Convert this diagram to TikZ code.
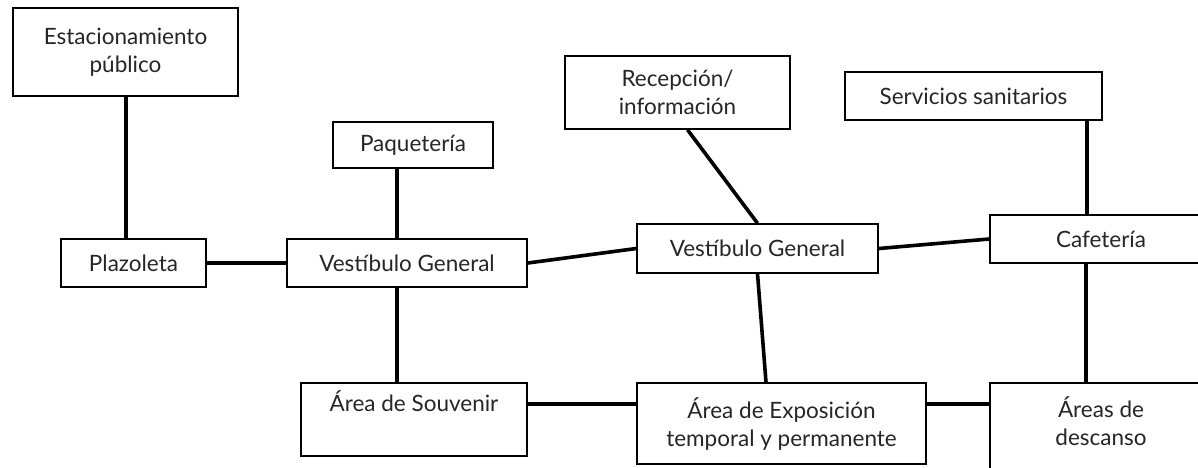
\documentclass[tikz,border=0pt]{standalone}
\usepackage{fontspec}
\setmainfont{Lato}
\usetikzlibrary{calc}
\tikzset{
  box/.style={draw=black, line width=1.6pt, fill=white, rectangle, inner sep=0pt,
    align=center, text=black!85, font=\fontsize{22.5}{28}\selectfont},
  link/.style={line width=3.6pt, line cap=butt}
}
\begin{document}
\begin{tikzpicture}[x=1pt,y=-1pt]
\useasboundingbox (0,0) rectangle (1198,467);
\clip (0,0) rectangle (1198,467);
% nodes
\node[box, minimum width=225pt, minimum height=88pt] (est) at (125.5,52) {Estacionamiento\\público};
\node[box, minimum width=145pt, minimum height=48pt] (plaz) at (133.5,263) {Plazoleta};
\node[box, minimum width=240pt, minimum height=48pt] (vl) at (407,263) {Vestíbulo General};
\node[box, minimum width=160pt, minimum height=46pt] (paq) at (413,145) {Paquetería};
\node[box, minimum width=225pt, minimum height=73pt] (rec) at (677.5,92.5) {Recepción/\\información};
\node[box, minimum width=241pt, minimum height=49pt] (vm) at (757.5,248.5) {Vestíbulo General};
\node[box, minimum width=257pt, minimum height=48pt] (serv) at (973.5,96) {Servicios sanitarios};
\node[box, minimum width=222pt, minimum height=48pt] (caf) at (1101,239) {Cafetería};
\node[box, minimum width=226pt, minimum height=73pt] (souv) at (414,419.5) {Área de Souvenir\\\strut};
\node[box, minimum width=289pt, minimum height=81pt] (expo) at (781.5,423.5) {Área de Exposición\\temporal y permanente};
\node[box, minimum width=222pt, minimum height=92pt] (desc) at (1101,429) {Áreas de\\descanso\\[-12pt]\mbox{}};
% connectors
\draw[link] ([xshift=0.5pt]est.south) -- ([xshift=0.5pt]est.south |- plaz.north);
\draw[link] (plaz.east) -- (vl.west);
\draw[link] ([xshift=-16pt]paq.south) -- ([xshift=-16pt]paq.south |- vl.north);
\draw[link] ([xshift=-10pt]vl.south) -- ([xshift=-10pt]vl.south |- souv.north);
\draw[link] (vl.east) -- (vm.west);
\draw[link] ([xshift=10pt]rec.south) -- (vm.north);
\draw[link] (vm.east) -- (caf.west);
\draw[link] ([xshift=-16pt]serv.south east) -- ([xshift=-16pt]serv.south east |- caf.north);
\draw[link] (vm.south) -- ([xshift=-15.5pt]expo.north);
\draw[link] ([yshift=15.5pt]souv.east) -- ([yshift=15.5pt]souv.east -| expo.west);
\draw[link] ([yshift=19.5pt]expo.east) -- ([yshift=19.5pt]expo.east -| desc.west);
\draw[link] ([xshift=-15pt]caf.south) -- ([xshift=-15pt]caf.south |- desc.north);
\end{tikzpicture}
\end{document}
